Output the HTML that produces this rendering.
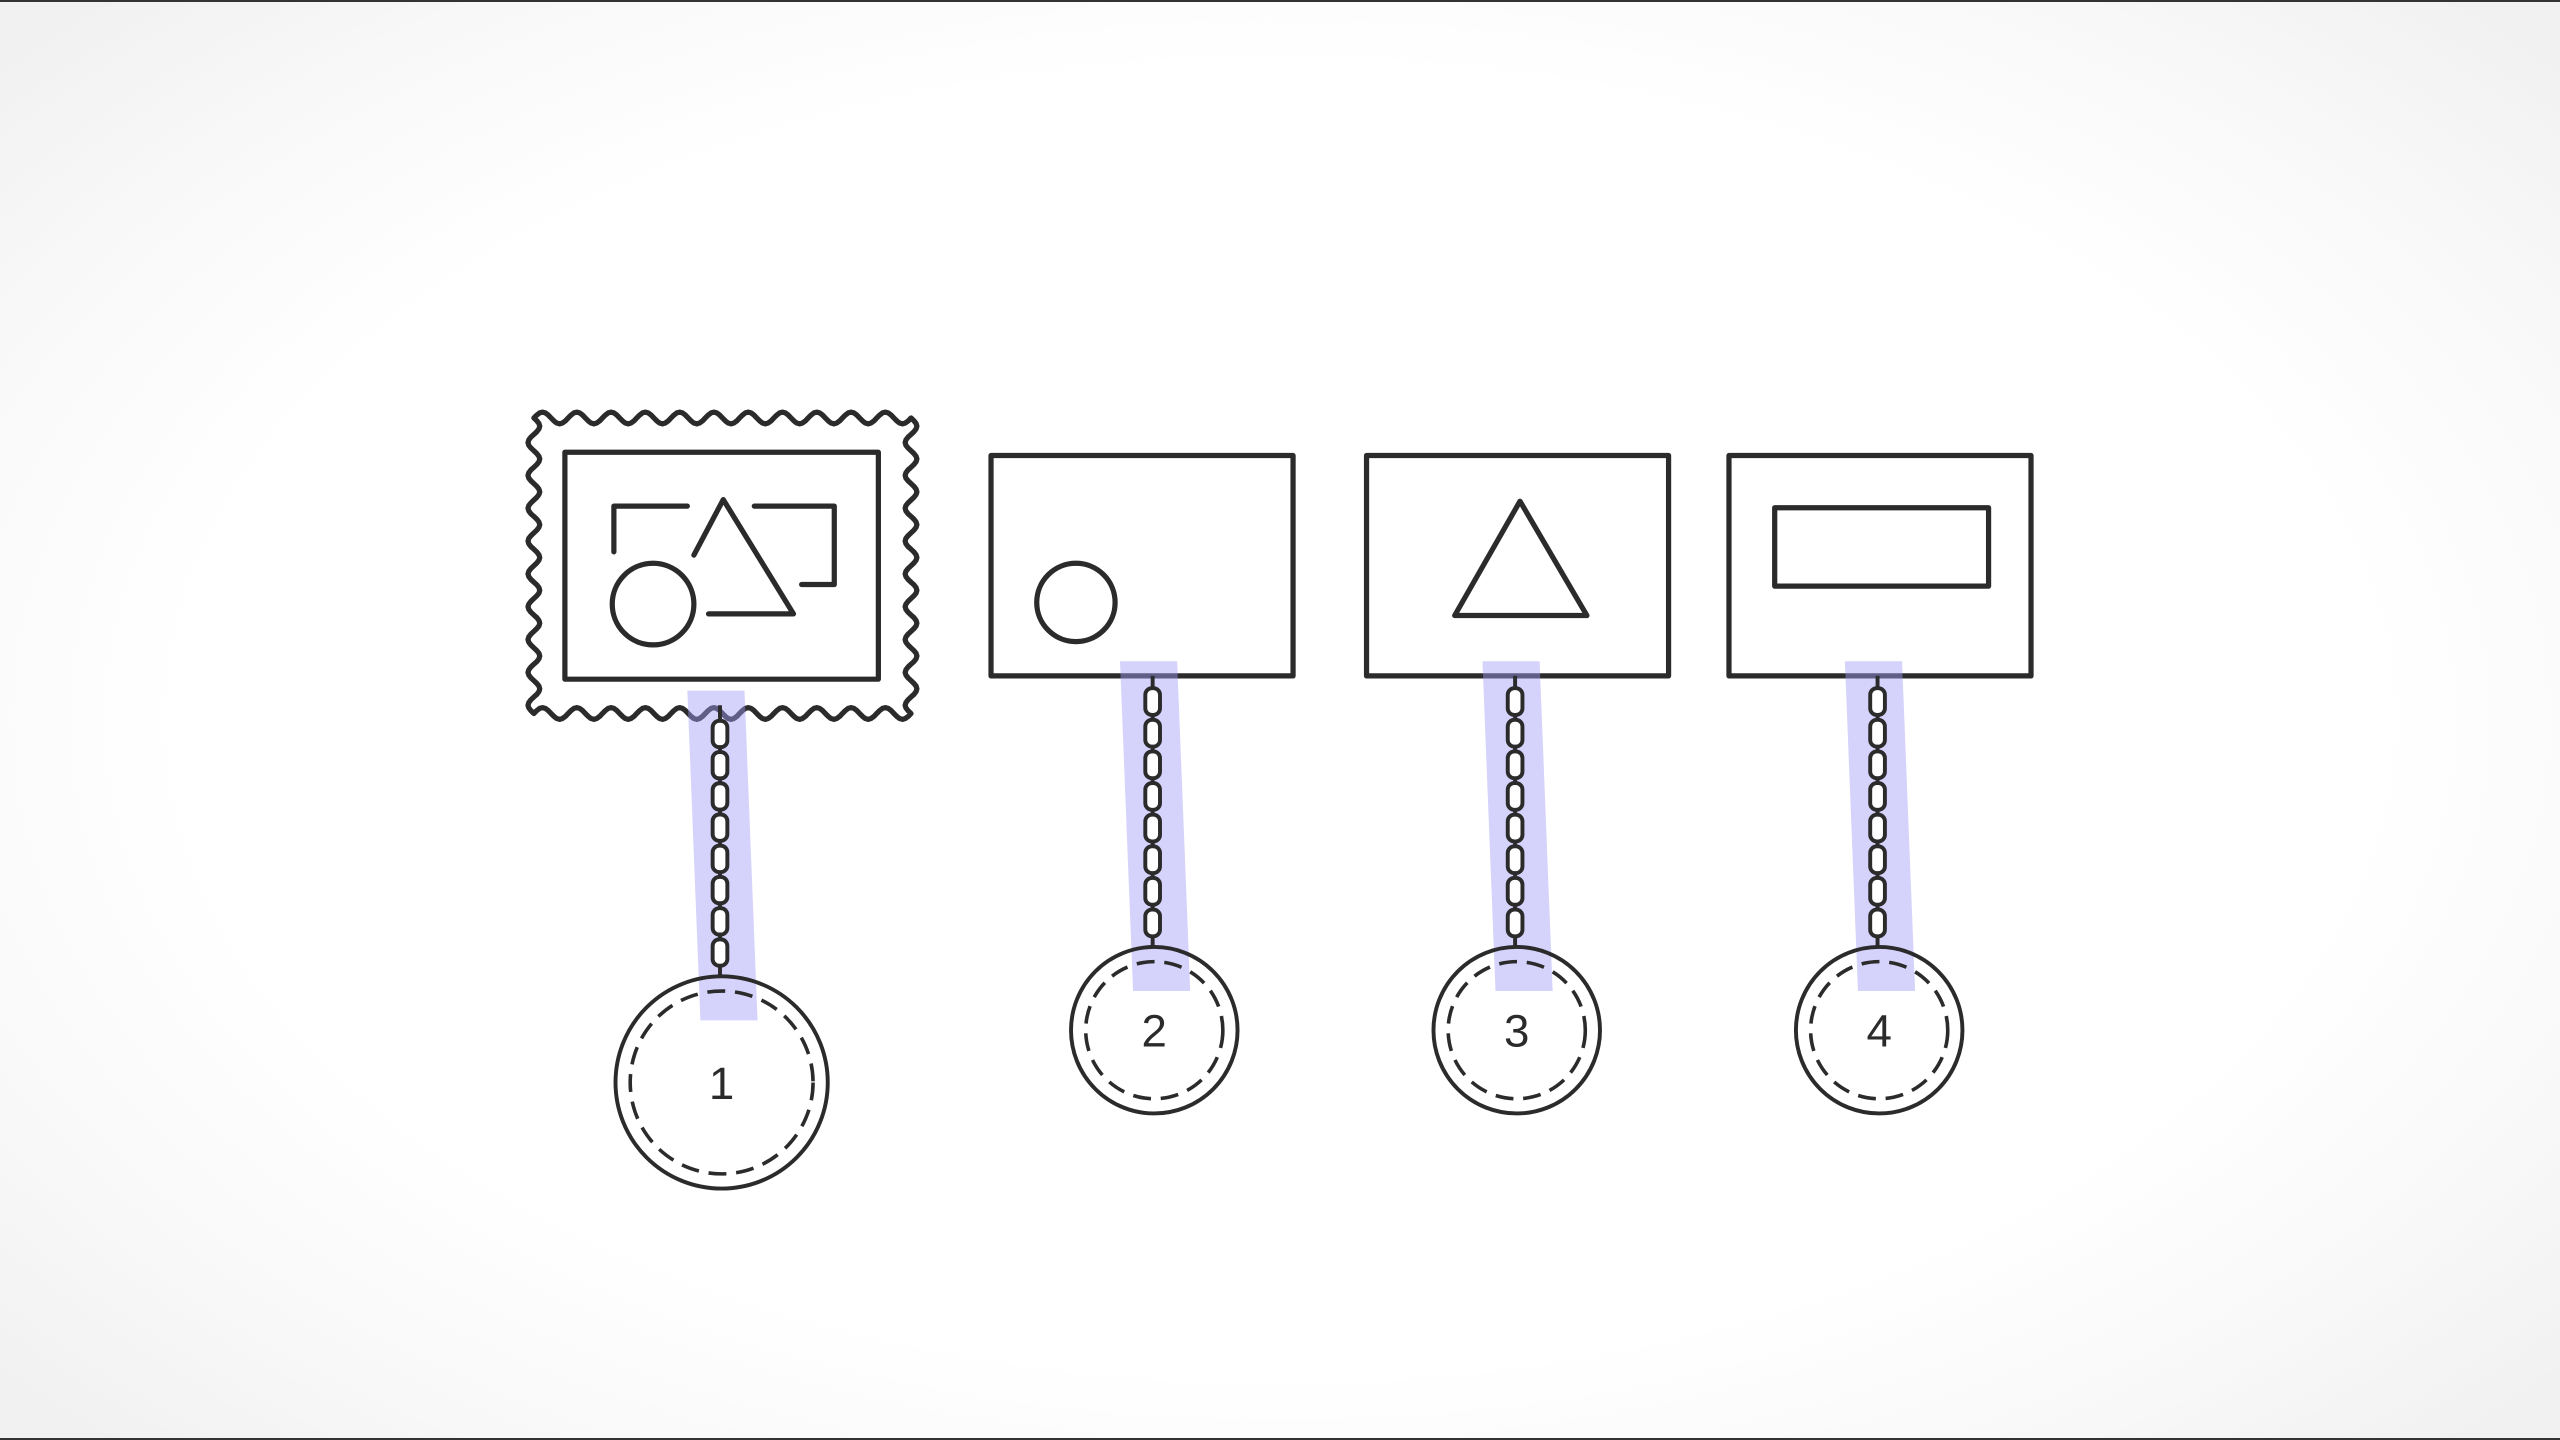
<!DOCTYPE html>
<html><head><meta charset="utf-8"><style>
html,body{margin:0;padding:0;width:2560px;height:1440px;overflow:hidden;background:#fff}
#bg{position:absolute;left:0;top:0;width:2560px;height:1440px;background:radial-gradient(ellipse 66% 70% at 50% 50%,#ffffff 0%,#ffffff 65%,#f8f8f8 85%,#f1f1f1 100%);border-top:2px solid #333;border-bottom:2px solid #333;box-sizing:border-box}
svg{position:absolute;left:0;top:0}
</style></head><body>
<div id="bg"></div>
<svg id="s" width="2560" height="1440" viewBox="0 0 1568 882">
<g id="boxes" fill="none" stroke="#2b2b2b" stroke-width="3.2" stroke-linejoin="round" stroke-linecap="round"></g>
<g id="bands"></g>
<g id="chains" fill="none" stroke="#2b2b2b" stroke-width="2.4"></g>
<g id="coins"></g>
</svg>
<script>
const labels = ["1","2","3","4"];
const boxX = [346, 607, 837, 1059];
const boxW = [192, 185, 185, 185];
const coinX = [442, 707, 929, 1151];
const coinY = [663, 631, 631, 631];
const coinR = [65, 51, 51, 51];
const NS="http://www.w3.org/2000/svg";
function mk(tag,attrs,parent){const e=document.createElementNS(NS,tag);for(const k in attrs)e.setAttribute(k,attrs[k]);parent.appendChild(e);return e;}
const boxes=document.getElementById('boxes'),bands=document.getElementById('bands'),chains=document.getElementById('chains'),coins=document.getElementById('coins');

(function(){
  const x0=327,y0=256,x1=558,y1=437,a=3.6;
  let d="";
  function edge(ax,ay,bx,by,nx,ny,first){
    const L=Math.hypot(bx-ax,by-ay);const n=Math.round(L/21);const steps=n*12;
    for(let i=0;i<=steps;i++){const t=i/steps;const w=a*Math.sin(t*n*2*Math.PI);
      const x=ax+(bx-ax)*t+nx*w,y=ay+(by-ay)*t+ny*w;d+=(first&&i===0?"M":"L")+x.toFixed(1)+","+y.toFixed(1);}
  }
  edge(x0,y0,x1,y0,0,-1,true);edge(x1,y0,x1,y1,1,0);edge(x1,y1,x0,y1,0,1);edge(x0,y1,x0,y0,-1,0);
  const p=mk('path',{d:d+"Z"},boxes);
  
  
})();

labels.forEach((lab,i)=>{
  const top=i===0?277:279, h=i===0?139:135;
  const r=mk('rect',{x:boxX[i],y:top,width:boxW[i],height:h},boxes);
  
  
  const chainTop=top+h, chainBot=coinY[i]-coinR[i];
  const bt=i===0?423:405, bb=i===0?625:607;
  const bx=coinX[i]-21;
  const band=mk('polygon',{points:`${bx},${bt} ${bx+35},${bt} ${bx+43},${bb} ${bx+8},${bb}`,fill:"#a29cf7","fill-opacity":"0.45"},bands);
  
  
  const chx=coinX[i]-1;
  const cg=mk('g',{},chains);
  
  
  mk('line',{x1:chx,y1:(i===0?432:chainTop),x2:chx,y2:chainBot},cg);
  const start=(i===0?440:chainTop+6), end=chainBot-5;
  const n=Math.round((end-start)/20);
  const sp=(end-start)/n;
  for(let k=0;k<n;k++){
    mk('rect',{x:chx-4.5,y:start+k*sp+1.5,width:9,height:sp-3,rx:4,fill:"#fff"},cg);
  }
  const c=mk('g',{},coins);
  
  
  mk('circle',{cx:coinX[i],cy:coinY[i],r:coinR[i],fill:"none",stroke:"#2b2b2b","stroke-width":2.4},c);
  mk('circle',{cx:coinX[i],cy:coinY[i],r:coinR[i]-9,fill:"none",stroke:"#2b2b2b","stroke-width":2.2,"stroke-dasharray":"11 6"},c);
  const t=mk('text',{x:coinX[i],y:coinY[i]+10,"text-anchor":"middle","font-family":"Liberation Sans, sans-serif","font-size":28,fill:"#2b2b2b"},c);
  t.textContent=lab;
});

const inner=[
 ['path',{d:"M376,338 L376,310 L421,310"},'bracket-left'],
 ['path',{d:"M425,340 L443,306 L486,376 L434,376"},'stamp-triangle'],
 ['path',{d:"M462,310 L511,310 L511,358 L491,358"},'bracket-right'],
 ['circle',{cx:400,cy:370,r:25},'stamp-circle'],
 ['circle',{cx:659,cy:369,r:24},'circle-shape'],
 ['path',{d:"M931,307 L891,377 L972,377 Z"},'triangle-shape'],
 ['rect',{x:1087,y:311,width:131,height:48},'rectangle-shape']
];
inner.forEach(s=>{const e=mk(s[0],s[1],boxes);
  
  });
</script>
</body></html>
